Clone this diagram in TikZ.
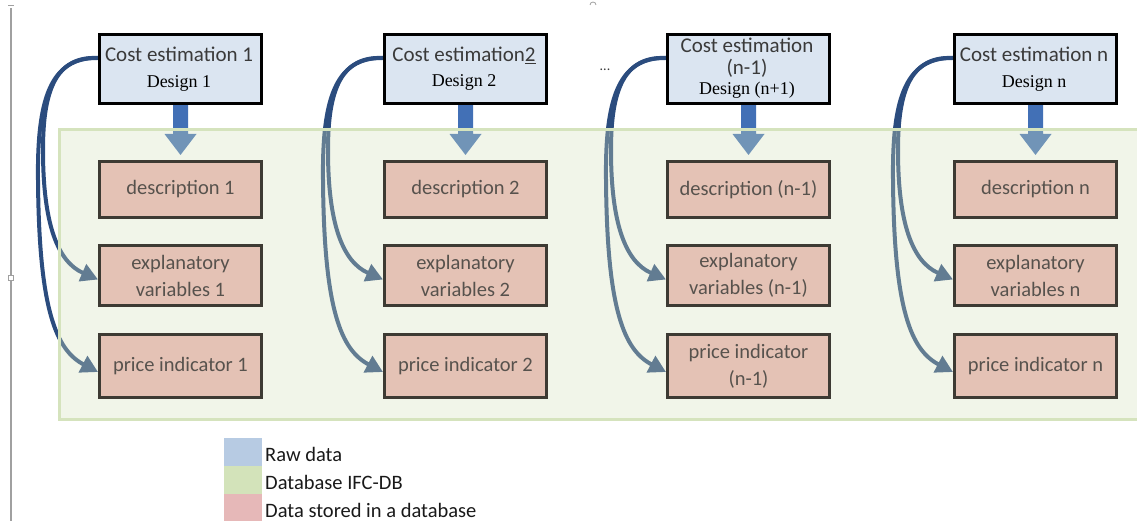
\documentclass[tikz,border=0pt]{standalone}
\usepackage{fontspec}
\setmainfont{Carlito}
\newfontfamily\serifD{Liberation Serif}
\usetikzlibrary{arrows.meta,calc}
\definecolor{topfill}{HTML}{DBE5F1}
\definecolor{pinkfill}{HTML}{E4C2B5}
\definecolor{pinkline}{HTML}{3D3A33}
\definecolor{pinktext}{HTML}{57524D}
\definecolor{toptext}{HTML}{3A3A3A}
\definecolor{navy}{HTML}{2B4C7E}
\definecolor{shaftblue}{HTML}{4270B6}
\definecolor{veil}{HTML}{D3E0BC}
\definecolor{veilline}{HTML}{D5E3BD}
\definecolor{legblue}{HTML}{B7CBE3}
\definecolor{leggreen}{HTML}{D3E3BA}
\definecolor{legpink}{HTML}{E6B8B8}
\definecolor{margin}{HTML}{A0A0A0}
\pgfdeclarelayer{curves}
\pgfdeclarelayer{veillayer}
\pgfsetlayers{curves,veillayer,main}
\tikzset{
  topbox/.style={draw=black, line width=3pt, fill=topfill, minimum width=162pt, minimum height=69pt, inner sep=0pt, anchor=north west},
  databox/.style={draw=pinkline, line width=3pt, fill=pinkfill, minimum width=162pt, inner sep=0pt, anchor=north west, text=pinktext, align=center, font=\fontsize{20.5}{27}\selectfont},
  captxt/.style={anchor=base, text=toptext, font=\fontsize{21}{25}\selectfont, inner sep=0pt},
  destxt/.style={anchor=base, text=black, font=\serifD\fontsize{18}{21}\selectfont, inner sep=0pt},
  curve/.style={draw=navy, line width=4pt, -{Triangle[length=17pt,width=18pt]}},
  legsq/.style={minimum width=38pt, minimum height=28pt, inner sep=0pt, anchor=north west},
  legtxt/.style={anchor=base west, inner sep=0pt, text=black!90, font=\fontsize{20.5}{25}\selectfont},
}
\begin{document}
\begin{tikzpicture}[x=1pt,y=-1pt]
\useasboundingbox (0,0) rectangle (1137,521);
\clip (0,0) rectangle (1137,521);

% page margin marks
\draw[margin, line width=1.2pt] (11,8) -- (11,521);
\draw[margin, line width=1pt] (8,6) -- (14,6);
\draw[margin, line width=1pt, fill=white] (8.5,275.5) rectangle (13.5,280.5);
\draw[margin, line width=0.8pt] (590,5) arc[start angle=180, end angle=360, radius=3];

% top boxes
\node[topbox] (c1) at (98,33) {};
\node[topbox] (c2) at (383,33) {};
\node[topbox] (c3) at (666,33) {};
\node[topbox] (c4) at (953,33) {};

\node[captxt] (t1a) at (179,62) {Cost estimation 1};
\node[destxt] (t1b) at (179,88) {Design 1};
\node[captxt] (t2a) at (464,62) {Cost estimation\underline{2}};
\node[destxt] (t2b) at (464,87) {Design 2};
\node[captxt] (t3a) at (747,53) {Cost estimation};
\node[captxt] (t3c) at (747,75) {(n-1)};
\node[destxt] (t3b) at (747,95) {Design (n+1)};
\node[captxt] (t4a) at (1034,62) {Cost estimation n};
\node[destxt] (t4b) at (1034,88) {Design n};

\node[anchor=center, text=toptext, font=\fontsize{14}{16}\selectfont] (dots) at (605,70) {...};

% data boxes
\foreach \i/\x/\d/\e/\p in {1/98/{description 1}/{explanatory\\variables 1}/{price indicator 1},
                              2/383/{description 2}/{explanatory\\variables 2}/{price indicator 2},
                              3/666/{description (n-1)}/{explanatory\\variables (n-1)}/{price indicator\\(n-1)},
                              4/953/{description n}/{explanatory\\variables n}/{price indicator n}}{
  \node[databox, minimum height=56pt] (d\i) at (\x,160) {\d};
  \node[databox, minimum height=60pt] (e\i) at (\x,244) {\e};
  \node[databox, minimum height=63pt] (p\i) at (\x,333) {\p};
}

% curves and vertical arrows (under the veil)
\begin{pgfonlayer}{curves}
\foreach \i/\x in {1/98,2/383,3/666,4/953}{
  \draw[curve] ($(c\i.west)+(0,-11)$) .. controls (\x-42,56) and (\x-55,90) .. (\x-55,150)
     .. controls (\x-55,225) and (\x-40,262) .. ($(e\i.west)+(0,4)$);
  \draw[curve] ($(c\i.west)+(0,-11)$) .. controls (\x-48,57) and (\x-61,100) .. (\x-60,180)
     .. controls (\x-59,310) and (\x-42,350) .. ($(p\i.west)+(0,6)$);
  \fill[shaftblue] ($(c\i.south)+(-7.5,0)$) -- ($(c\i.south)+(7.5,0)$) -- ($(c\i.south)+(7.5,29)$)
     -- ($(c\i.south)+(16,29)$) -- ($(d\i.north)+(0,-5)$) -- ($(c\i.south)+(-16,29)$)
     -- ($(c\i.south)+(-7.5,29)$) -- cycle;
}
\end{pgfonlayer}

% database region
\begin{pgfonlayer}{veillayer}
\fill[veil, fill opacity=0.33] (59,130) rectangle (1150,419);
\draw[veilline, line width=3pt] (1150,130) -- (59,130) -- (59,419) -- (1150,419);
\end{pgfonlayer}

% legend
\node[legsq, fill=legblue] (lg1) at (224,438) {};
\node[legsq, fill=leggreen] (lg2) at (224,466) {};
\node[legsq, fill=legpink] (lg3) at (224,494) {};
\node[legtxt] (lt1) at (265,461) {Raw data};
\node[legtxt] (lt2) at (265,489) {Database IFC-DB};
\node[legtxt] (lt3) at (265,517) {Data stored in a database};
\end{tikzpicture}
\end{document}
